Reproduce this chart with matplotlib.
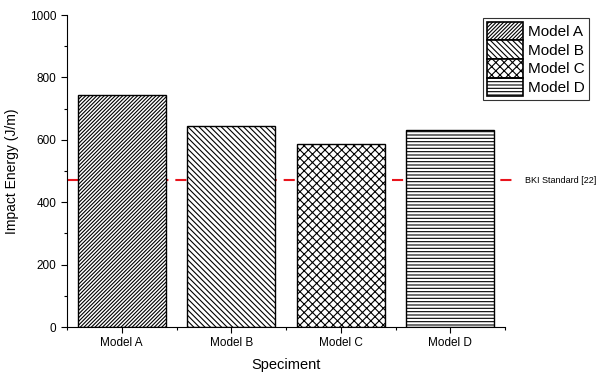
import matplotlib
matplotlib.use("Agg")
import matplotlib.pyplot as plt
from matplotlib.patches import Patch
from matplotlib.ticker import MultipleLocator, FixedLocator

plt.rcParams['font.family'] = ['Liberation Sans', 'DejaVu Sans']
plt.rcParams['hatch.linewidth'] = 0.8
plt.rcParams['lines.scale_dashes'] = False

categories = ["Model A", "Model B", "Model C", "Model D"]
impact_energy = [743, 643, 585, 630]
bki_standard = 470
hatches = ['/' * 9, '\\' * 6, 'x' * 4, '-----']

fig = plt.figure(figsize=(6.12, 3.77), dpi=100)
ax = fig.add_axes([67/612, 1-327/377, (505-67)/612, (327-15)/377])

x = list(range(1, len(categories) + 1))

# Reference line drawn behind the bars, running slightly past the axes
ax.plot([0.5, 4.62], [bki_standard, bki_standard], color='#e8141c', lw=1.5,
        dashes=(8, 5), clip_on=False, zorder=1)
ax.text(4.68, bki_standard, "BKI Standard [22]", fontsize=6.5,
        va='center', ha='left', clip_on=False)

bars = ax.bar(x, impact_energy, width=0.8, color='white', edgecolor='black',
              linewidth=1.0, zorder=2)
for b, h in zip(bars, hatches):
    b.set_hatch(h)

ax.set_xlim(0.5, 4.5)
ax.set_ylim(0, 1000)
ax.set_xticks(x)
ax.set_xticklabels(categories, fontsize=8.5)
ax.xaxis.set_minor_locator(FixedLocator([0.5, 1.5, 2.5, 3.5, 4.5]))
ax.yaxis.set_major_locator(MultipleLocator(200))
ax.yaxis.set_minor_locator(MultipleLocator(100))
ax.tick_params(axis='y', labelsize=8.5)
ax.tick_params(which='major', direction='out', length=4, width=0.8)
ax.tick_params(which='minor', direction='out', length=2.5, width=0.8)
for s in ['top', 'right']:
    ax.spines[s].set_visible(False)
for s in ['left', 'bottom']:
    ax.spines[s].set_linewidth(0.8)

ax.set_xlabel("Speciment", fontsize=10.5, labelpad=6)
ax.set_ylabel("Impact Energy (J/m)", fontsize=10, labelpad=8)

handles = [Patch(facecolor='white', edgecolor='black', hatch=h, label=c,
                 linewidth=1.2)
           for c, h in zip(categories, hatches)]
leg = fig.legend(handles=handles, loc='upper left',
                 bbox_to_anchor=(483/612, 1-18/377), fontsize=11,
                 frameon=True, fancybox=False, edgecolor='black',
                 handlelength=2.35, handleheight=1.5, handletextpad=0.35,
                 labelspacing=0.0, borderpad=0.25, borderaxespad=0)
leg.get_frame().set_linewidth(0.8)

fig.savefig("out.png", dpi=100)
